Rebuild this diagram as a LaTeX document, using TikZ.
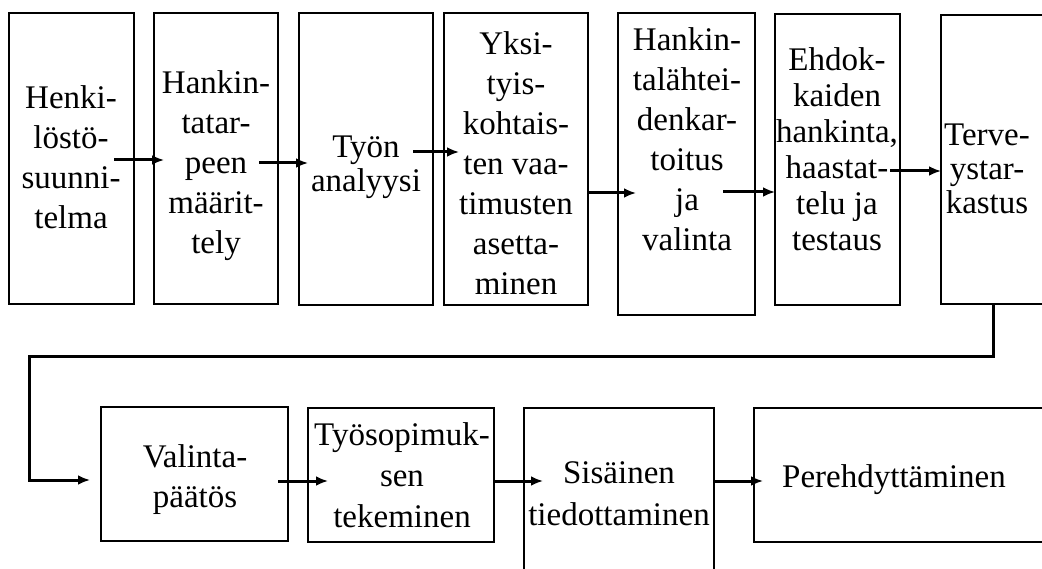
\documentclass[tikz,border=0pt]{standalone}
\usepackage{fontspec}
\setmainfont{Liberation Serif}
\usetikzlibrary{arrows.meta}
\newcommand\topstrut{\rule{0pt}{28pt}}
\tikzset{
  stage/.style={draw, line width=1.4pt, rectangle, inner sep=0pt, outer sep=0pt, anchor=north west},
  txt/.style={font=\fontsize{33}{#1}\selectfont, align=center, inner sep=0pt, anchor=north},
  txt/.default=40,
  flow/.style={line width=3pt, -{Latex[length=12pt,width=10pt]}},
}
\begin{document}
\begin{tikzpicture}[x=1pt, y=-1pt]
\fill[white] (0,0) rectangle (1042,569);
\useasboundingbox (0,0) rectangle (1042,569);

% upper row of stages
\node[stage, minimum width=125pt, minimum height=291pt] (b1) at (9,13) {};
\node[stage, minimum width=124pt, minimum height=291pt] (b2) at (154,13) {};
\node[stage, minimum width=134pt, minimum height=292pt] (b3) at (299,13) {};
\node[stage, minimum width=144pt, minimum height=292pt] (b4) at (444,13) {};
\node[stage, minimum width=137pt, minimum height=302pt] (b5) at (618,13) {};
\node[stage, minimum width=125pt, minimum height=291pt] (b6) at (775,14) {};
\node[stage, minimum width=110pt, minimum height=289pt] (b7) at (941,15) {};

% lower row of stages
\node[stage, minimum width=187pt, minimum height=134pt] (b8) at (101,407) {};
\node[stage, minimum width=186pt, minimum height=134pt] (b9) at (308,408) {};
\node[stage, minimum width=190pt, minimum height=175pt] (b10) at (524,408) {};
\node[stage, minimum width=296pt, minimum height=134pt] (b11) at (754,408) {};

% stage texts
\node[txt] (t1) at (71,80) {\topstrut Henki-\\löstö-\\suunni-\\telma};
\node[txt] (t2) at (216,65) {\topstrut Hankin-\\tatar-\\peen\\määrit-\\tely};
\node[txt=34] (t3) at (366,129) {\topstrut Työn\\analyysi};
\node[txt] (t4) at (516,26) {\topstrut Yksi-\\tyis-\\kohtais-\\ten vaa-\\timusten\\asetta-\\minen};
\node[txt] (t5) at (687,22) {\topstrut Hankin-\\talähtei-\\denkar-\\toitus\\ja\\valinta};
\node[txt=36] (t6) at (837,42) {\topstrut Ehdok-\\kaiden\\hankinta,\\haastat-\\telu ja\\testaus};
\node[txt=34] (t7) at (987,117) {\topstrut Terve-\\ystar-\\kastus};
\node[txt] (t8) at (195,439) {\topstrut Valinta-\\päätös};
\node[txt=41] (t9) at (402,417) {\topstrut Työsopimuk-\\sen\\tekeminen};
\node[txt=42] (t10) at (619,455) {\topstrut Sisäinen\\tiedottaminen};
\node[txt] (t11) at (894,459) {\topstrut Perehdyttäminen};

% connectors, upper row
\draw[flow, shorten <=-20pt, shorten >=-10pt] (b1.east |- 0,160) -- (b2.west |- 0,160);
\draw[flow, shorten <=-19pt, shorten >=-9pt] (b2.east |- 0,163) -- (b3.west |- 0,163);
\draw[flow, shorten <=-20pt, shorten >=-15pt] (b3.east |- 0,152) -- (b4.west |- 0,152);
\draw[flow, shorten >=-18pt] (b4.east |- 0,193) -- (b5.west |- 0,193);
\draw[flow, shorten <=-32pt] (b5.east |- 0,192) -- (b6.west |- 0,192);
\draw[flow, shorten <=-10pt] (b6.east |- 0,171) -- (b7.west |- 0,171);

% return line to the lower row
\draw[flow, shorten >=11pt] (b7.south -| 993,0) |- (29,357) |- (b8.west |- 0,480);

% connectors, lower row
\draw[flow, shorten <=-10pt, shorten >=-20pt] (b8.east |- 0,481) -- (b9.west |- 0,481);
\draw[flow, shorten >=-19pt] (b9.east |- 0,481) -- (b10.west |- 0,481);
\draw[flow, shorten >=-9pt] (b10.east |- 0,481) -- (b11.west |- 0,481);
\end{tikzpicture}
\end{document}
